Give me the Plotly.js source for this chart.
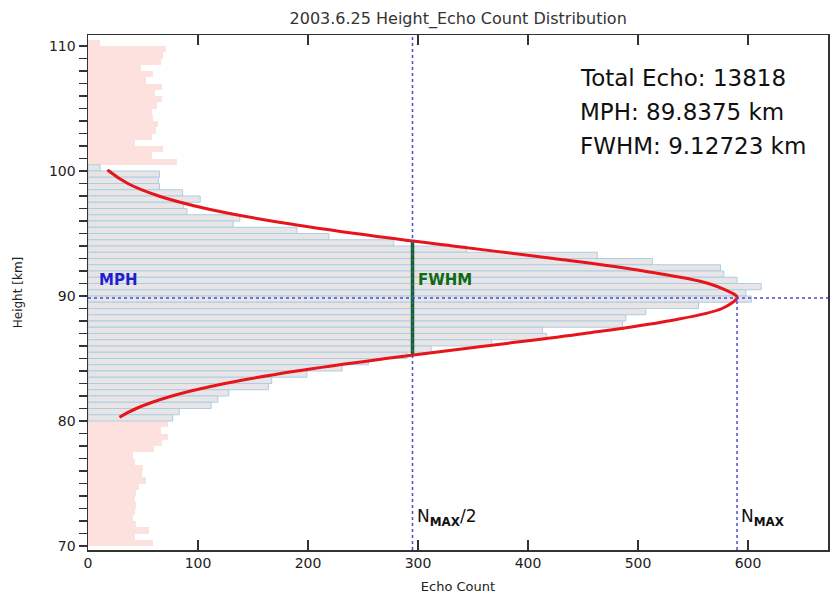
<!DOCTYPE html>
<html>
<head>
<meta charset="utf-8">
<script src="https://cdn.plot.ly/plotly-3.0.1.min.js"></script>
<style>
html,body{margin:0;padding:0;background:#fff;}
#chart{width:830px;height:596px;}
</style>
</head>
<body>
<div id="chart"></div>
<script>
// ---- data ----
const binSize = 0.5;
// noise (pink) bins: lower edge of each 0.5 km bin
const noiseTopStarts = [110, 109.5, 109, 108.5, 108, 107.5, 107, 106.5, 106, 105.5, 105, 104.5, 104, 103.5, 103, 102.5, 102, 101.5, 101, 100.5];
const noiseTopCounts = [11, 71, 68, 66, 48, 59, 53, 67, 61, 67, 63, 58, 59, 64, 62, 58, 43, 68, 58, 81];
const noiseBotStarts = [79.5, 79, 78.5, 78, 77.5, 77, 76.5, 76, 75.5, 75, 74.5, 74, 73.5, 73, 72.5, 72, 71.5, 71, 70.5, 70];
const noiseBotCounts = [73, 66, 73, 67, 60, 41, 43, 50, 49, 53, 46, 44, 43, 44, 43, 41, 44, 55, 43, 59];
// echo-layer (grey) bins
const layerStarts = [100, 99.5, 99, 98.5, 98, 97.5, 97, 96.5, 96, 95.5, 95, 94.5, 94, 93.5, 93, 92.5, 92, 91.5, 91, 90.5,
                     90, 89.5, 89, 88.5, 88, 87.5, 87, 86.5, 86, 85.5, 85, 84.5, 84, 83.5, 83, 82.5, 82, 81.5, 81, 80.5, 80];
const layerCounts = [11, 65, 64, 65, 86, 102, 87, 90, 138, 132, 190, 219, 278, 344, 463, 513, 575, 578, 590, 612,
                     598, 603, 555, 507, 489, 486, 413, 417, 367, 312, 290, 255, 231, 199, 167, 164, 128, 118, 112, 83, 77];
// fitted curve
const fitHeights = [80.3, 81, 82, 83, 84, 85, 86, 87, 88, 89, 89.84, 90, 91, 92, 93, 94, 95, 96, 97, 98, 99, 100, 100.1];
const fitCounts  = [28.6, 43.8, 76.3, 124.4, 189.6, 270.7, 361.4, 451.3, 527.2, 576.4, 590, 589.5, 564.1, 505.1, 423.1, 331.5, 243.0, 166.8, 107.0, 64.3, 36.2, 19.0, 17.8];
// summary values
const totalEcho = 13818;
const mph = 89.8375;
const fwhm = 9.12723;
const nMax = 590;
const xTicks = [0, 100, 200, 300, 400, 500, 600];
const yTicks = [70, 80, 90, 100, 110];

// ---- build ----
const centers = a => a.map(v => v + binSize / 2);
const noiseStarts = noiseTopStarts.concat(noiseBotStarts);
const noiseCounts = noiseTopCounts.concat(noiseBotCounts);

const traces = [
  {type:'bar', orientation:'h', y:centers(noiseStarts), x:noiseCounts, width:binSize,
   marker:{color:'#fde1de', line:{width:0}}, hoverinfo:'skip', showlegend:false},
  {type:'bar', orientation:'h', y:centers(layerStarts), x:layerCounts, width:binSize,
   marker:{color:'#e9e4e6', line:{color:'#a9cfe4', width:1}}, hoverinfo:'skip', showlegend:false},
  {type:'scatter', mode:'lines', x:[nMax/2, nMax/2], y:[mph - fwhm/2, mph + fwhm/2],
   line:{color:'#0f6a14', width:3.5}, showlegend:false, hoverinfo:'skip'},
  {type:'scatter', mode:'lines', x:fitCounts, y:fitHeights,
   line:{color:'#e8141b', width:3, shape:'spline', smoothing:1}, showlegend:false, hoverinfo:'skip'}
];

const dotBlue = '#4a4ad8';
const shapes = [
  {type:'line', xref:'x', yref:'paper', x0:nMax/2, x1:nMax/2, y0:0, y1:1, layer:'above',
   line:{color:dotBlue, width:1.5, dash:'dot'}},
  {type:'line', xref:'x', yref:'y', x0:nMax, x1:nMax, y0:69.68, y1:mph, layer:'above',
   line:{color:dotBlue, width:1.5, dash:'dot'}},
  {type:'line', xref:'paper', yref:'y', x0:0, x1:1, y0:mph, y1:mph, layer:'above',
   line:{color:dotBlue, width:1.5, dash:'dot'}}
];

const infoFont = {family:'DejaVu Sans, sans-serif', size:23, color:'#111'};
const annotations = [
  {xref:'paper', yref:'paper', x:0.662, y:0.9165, xanchor:'left', yanchor:'middle', showarrow:false,
   text:'Total Echo: ' + totalEcho, font:infoFont},
  {xref:'paper', yref:'paper', x:0.662, y:0.8505, xanchor:'left', yanchor:'middle', showarrow:false,
   text:'MPH: ' + mph + ' km', font:infoFont},
  {xref:'paper', yref:'paper', x:0.662, y:0.7845, xanchor:'left', yanchor:'middle', showarrow:false,
   text:'FWHM: ' + fwhm + ' km', font:infoFont},
  {xref:'x', yref:'y', x:8, y:91.3, xanchor:'left', yanchor:'middle', showarrow:false,
   text:'<b>MPH</b>', font:{family:'DejaVu Sans, sans-serif', size:15, color:'#1f1fd0'}},
  {xref:'x', yref:'y', x:nMax/2 + 3, y:91.3, xanchor:'left', yanchor:'middle', showarrow:false,
   text:'<b>FWHM</b>', font:{family:'DejaVu Sans, sans-serif', size:15, color:'#0f6a14'}},
  {xref:'x', yref:'y', x:nMax/2 + 2, y:72.3, xanchor:'left', yanchor:'middle', showarrow:false,
   text:'N<sub><b>MAX</b></sub>/2', font:{family:'DejaVu Sans, sans-serif', size:17, color:'#111'}},
  {xref:'x', yref:'y', x:nMax + 2, y:72.3, xanchor:'left', yanchor:'middle', showarrow:false,
   text:'N<sub><b>MAX</b></sub>', font:{family:'DejaVu Sans, sans-serif', size:17, color:'#111'}}
];

const axisCol = '#333';
const layout = {
  width:830, height:596,
  margin:{l:88, r:2, t:35, b:46},
  paper_bgcolor:'#fff', plot_bgcolor:'#fff',
  barmode:'overlay', bargap:0,
  title:{text:'2003.6.25 Height_Echo Count Distribution', x:0.552, xanchor:'center',
         y:0.969, yanchor:'middle', yref:'container',
         font:{family:'DejaVu Sans, sans-serif', size:16, color:'#333'}},
  xaxis:{range:[0, 672.7], tickvals:xTicks, ticktext:xTicks.map(String),
         ticks:'inside', ticklen:10, tickwidth:1.5, tickcolor:axisCol,
         showline:true, linecolor:axisCol, linewidth:1.5, mirror:'ticks',
         showgrid:false, zeroline:false,
         tickfont:{family:'DejaVu Sans, sans-serif', size:14, color:'#222'},
         title:{text:'Echo Count', standoff:11, font:{family:'DejaVu Sans, sans-serif', size:13, color:'#222'}}},
  yaxis:{range:[69.68, 110.88], tickvals:yTicks, ticktext:yTicks.map(String),
         ticks:'outside', ticklen:8, tickwidth:1.5, tickcolor:axisCol,
         minor:{dtick:1, ticks:'outside', ticklen:8, tickwidth:1.5, tickcolor:axisCol},
         showline:true, linecolor:axisCol, linewidth:1.5, mirror:'ticks',
         showgrid:false, zeroline:false,
         tickfont:{family:'DejaVu Sans, sans-serif', size:14, color:'#222'},
         title:{text:'Height [km]', standoff:24, font:{family:'DejaVu Sans, sans-serif', size:12, color:'#222'}}},
  shapes:shapes,
  annotations:annotations,
  showlegend:false
};

Plotly.newPlot('chart', traces, layout, {displayModeBar:false, staticPlot:true});
</script>
</body>
</html>
